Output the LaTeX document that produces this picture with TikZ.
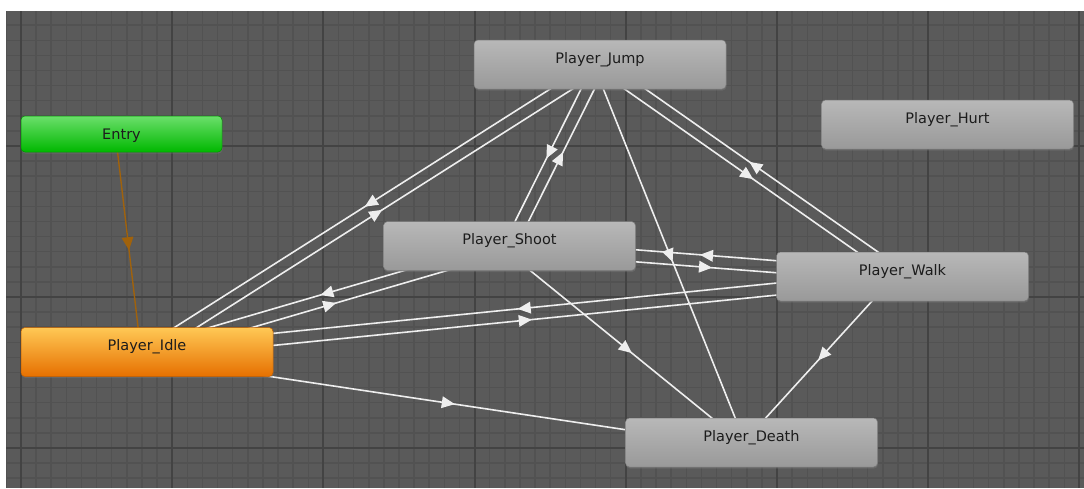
\documentclass[tikz,border=0pt]{standalone}
\usepackage{fontspec}
\setmainfont{DejaVu Sans}
\usetikzlibrary{calc,decorations.markings,shadows}
\definecolor{bgc}{HTML}{5A5A5A}
\definecolor{minorc}{HTML}{525252}
\definecolor{majorc}{HTML}{434343}
\definecolor{gtop}{HTML}{B8B8B8}
\definecolor{gbot}{HTML}{999999}
\definecolor{etop}{HTML}{6BDF6B}
\definecolor{ebot}{HTML}{00B800}
\definecolor{itop}{HTML}{FFC855}
\definecolor{ibot}{HTML}{E67000}
\definecolor{txt}{HTML}{1C1C1C}
\definecolor{edgec}{HTML}{EEEEEE}
\definecolor{entryc}{HTML}{A0620C}
\pgfdeclarelayer{bglayer}
\pgfdeclarelayer{edgelayer}
\pgfsetlayers{bglayer,edgelayer,main}
\tikzset{
  state/.style={rectangle, rounded corners=4pt, minimum width=252pt, minimum height=49pt,
    inner sep=0pt, text height=23pt, text depth=26pt, top color=gtop, bottom color=gbot,
    draw=gbot!80!black, line width=0.5pt, text=txt, font=\fontsize{14.5}{17}\selectfont,
    drop shadow={shadow xshift=0.5pt, shadow yshift=-1.5pt, opacity=0.35}},
  entrystate/.style={state, minimum width=201pt, minimum height=36pt, text depth=13pt,
    top color=etop, bottom color=ebot, draw=ebot!80!black},
  idlestate/.style={state, top color=itop, bottom color=ibot, draw=ibot!85!black},
  trans/.style={draw=edgec, line width=1.6pt, postaction={decorate},
    decoration={markings, mark=at position 0.5 with {\fill[edgec] (6.5pt,0pt) -- (-6.5pt,6pt) -- (-6.5pt,-6pt) -- cycle;}}},
  entrytrans/.style={draw=entryc, line width=1.4pt, postaction={decorate},
    decoration={markings, mark=at position 0.5 with {\fill[entryc] (6.5pt,0pt) -- (-6.5pt,6pt) -- (-6.5pt,-6pt) -- cycle;}}}
}
\newcommand\transit[3][trans]{\draw[#1] ($(#2.center)!6pt!-90:(#3.center)$) -- ($(#3.center)!6pt!90:(#2.center)$);}
\begin{document}
\begin{tikzpicture}[x=1pt,y=1pt]
\useasboundingbox (0,0) rectangle (1084,-488);
\begin{pgfonlayer}{bglayer}
\fill[white] (0,0) rectangle (1084,-488);
\fill[bgc] (6,-11) rectangle (1084,-488);
\begin{scope}
\clip (6,-11) rectangle (1084,-488);
\foreach \i in {-1,...,71} \draw[minorc, line width=1.5pt] ({21+\i*15.12},-11) -- ({21+\i*15.12},-488);
\foreach \j in {-9,...,23} \draw[minorc, line width=1.5pt] (6,{-(146+\j*15.1)}) -- (1084,{-(146+\j*15.1)});
\foreach \i in {0,...,7} \draw[majorc, line width=2pt] ({21+\i*151.2},-11) -- ({21+\i*151.2},-488);
\foreach \j in {0,1,2} \draw[majorc, line width=2pt] (6,{-(146+\j*151)}) -- (1084,{-(146+\j*151)});
\end{scope}
\end{pgfonlayer}

\node[entrystate] (entry) at (121.5,-134) {Entry};
\node[state] (jump) at (600,-64.5) {Player\_Jump};
\node[state] (hurt) at (947.5,-124.5) {Player\_Hurt};
\node[idlestate] (idle) at (147,-352) {Player\_Idle};
\node[state] (shoot) at (509.5,-246) {Player\_Shoot};
\node[state] (walk) at (902.5,-276.5) {Player\_Walk};
\node[state] (death) at (751.5,-442.5) {Player\_Death};

\begin{pgfonlayer}{edgelayer}
\transit[entrytrans]{entry}{idle}
\transit{idle}{jump}
\transit{jump}{idle}
\transit{idle}{shoot}
\transit{shoot}{idle}
\transit{idle}{walk}
\transit{walk}{idle}
\transit{idle}{death}
\transit{jump}{shoot}
\transit{shoot}{jump}
\transit{jump}{walk}
\transit{walk}{jump}
\transit{jump}{death}
\transit{shoot}{walk}
\transit{walk}{shoot}
\transit{shoot}{death}
\transit{walk}{death}
\end{pgfonlayer}
\end{tikzpicture}
\end{document}
